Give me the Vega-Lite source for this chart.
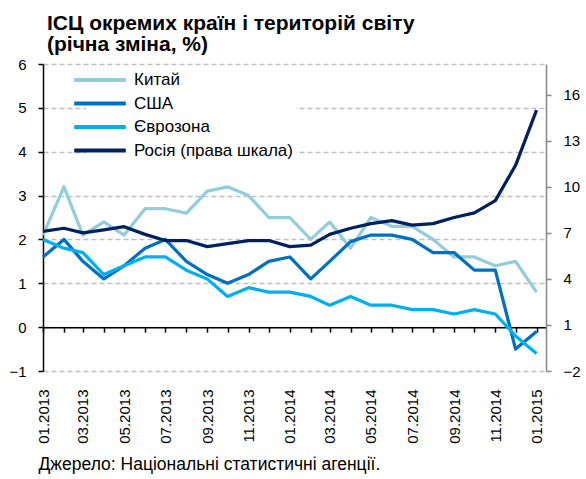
{
  "$schema": "https://vega.github.io/schema/vega-lite/v6.json",
  "width": 503,
  "height": 307,
  "autosize": {"type": "none"},
  "padding": {"left": 43, "top": 64, "right": 40, "bottom": 108},
  "background": "white",
  "config": {
    "font": "Liberation Sans",
    "view": {"stroke": null},
    "axis": {"labelFont": "Liberation Sans", "labelColor": "black", "titleFont": "Liberation Sans"},
    "legend": {"labelFont": "Liberation Sans"}
  },
  "title": {
    "text": ["ІСЦ  окремих країн і територій світу", "(річна зміна, %)"],
    "anchor": "start",
    "frame": "group",
    "font": "Liberation Sans",
    "fontSize": 21,
    "fontWeight": "bold",
    "color": "black",
    "lineHeight": 21,
    "offset": 2,
    "dx": 4
  },
  "datasets": {
    "cpi": [
      {"m": "2013-01-01", "s": "Китай", "v": 2.1},
      {"m": "2013-02-01", "s": "Китай", "v": 3.2},
      {"m": "2013-03-01", "s": "Китай", "v": 2.1},
      {"m": "2013-04-01", "s": "Китай", "v": 2.4},
      {"m": "2013-05-01", "s": "Китай", "v": 2.1},
      {"m": "2013-06-01", "s": "Китай", "v": 2.7},
      {"m": "2013-07-01", "s": "Китай", "v": 2.7},
      {"m": "2013-08-01", "s": "Китай", "v": 2.6},
      {"m": "2013-09-01", "s": "Китай", "v": 3.1},
      {"m": "2013-10-01", "s": "Китай", "v": 3.2},
      {"m": "2013-11-01", "s": "Китай", "v": 3.0},
      {"m": "2013-12-01", "s": "Китай", "v": 2.5},
      {"m": "2014-01-01", "s": "Китай", "v": 2.5},
      {"m": "2014-02-01", "s": "Китай", "v": 2.0},
      {"m": "2014-03-01", "s": "Китай", "v": 2.4},
      {"m": "2014-04-01", "s": "Китай", "v": 1.8},
      {"m": "2014-05-01", "s": "Китай", "v": 2.5},
      {"m": "2014-06-01", "s": "Китай", "v": 2.3},
      {"m": "2014-07-01", "s": "Китай", "v": 2.3},
      {"m": "2014-08-01", "s": "Китай", "v": 2.0},
      {"m": "2014-09-01", "s": "Китай", "v": 1.6},
      {"m": "2014-10-01", "s": "Китай", "v": 1.6},
      {"m": "2014-11-01", "s": "Китай", "v": 1.4},
      {"m": "2014-12-01", "s": "Китай", "v": 1.5},
      {"m": "2015-01-01", "s": "Китай", "v": 0.8},
      {"m": "2013-01-01", "s": "США", "v": 1.6},
      {"m": "2013-02-01", "s": "США", "v": 2.0},
      {"m": "2013-03-01", "s": "США", "v": 1.5},
      {"m": "2013-04-01", "s": "США", "v": 1.1},
      {"m": "2013-05-01", "s": "США", "v": 1.4},
      {"m": "2013-06-01", "s": "США", "v": 1.8},
      {"m": "2013-07-01", "s": "США", "v": 2.0},
      {"m": "2013-08-01", "s": "США", "v": 1.5},
      {"m": "2013-09-01", "s": "США", "v": 1.2},
      {"m": "2013-10-01", "s": "США", "v": 1.0},
      {"m": "2013-11-01", "s": "США", "v": 1.2},
      {"m": "2013-12-01", "s": "США", "v": 1.5},
      {"m": "2014-01-01", "s": "США", "v": 1.6},
      {"m": "2014-02-01", "s": "США", "v": 1.1},
      {"m": "2014-03-01", "s": "США", "v": 1.5},
      {"m": "2014-04-01", "s": "США", "v": 1.95},
      {"m": "2014-05-01", "s": "США", "v": 2.1},
      {"m": "2014-06-01", "s": "США", "v": 2.1},
      {"m": "2014-07-01", "s": "США", "v": 2.0},
      {"m": "2014-08-01", "s": "США", "v": 1.7},
      {"m": "2014-09-01", "s": "США", "v": 1.7},
      {"m": "2014-10-01", "s": "США", "v": 1.3},
      {"m": "2014-11-01", "s": "США", "v": 1.3},
      {"m": "2014-12-01", "s": "США", "v": -0.5},
      {"m": "2015-01-01", "s": "США", "v": -0.1},
      {"m": "2013-01-01", "s": "Єврозона", "v": 2.0},
      {"m": "2013-02-01", "s": "Єврозона", "v": 1.8},
      {"m": "2013-03-01", "s": "Єврозона", "v": 1.7},
      {"m": "2013-04-01", "s": "Єврозона", "v": 1.2},
      {"m": "2013-05-01", "s": "Єврозона", "v": 1.4},
      {"m": "2013-06-01", "s": "Єврозона", "v": 1.6},
      {"m": "2013-07-01", "s": "Єврозона", "v": 1.6},
      {"m": "2013-08-01", "s": "Єврозона", "v": 1.3},
      {"m": "2013-09-01", "s": "Єврозона", "v": 1.1},
      {"m": "2013-10-01", "s": "Єврозона", "v": 0.7},
      {"m": "2013-11-01", "s": "Єврозона", "v": 0.9},
      {"m": "2013-12-01", "s": "Єврозона", "v": 0.8},
      {"m": "2014-01-01", "s": "Єврозона", "v": 0.8},
      {"m": "2014-02-01", "s": "Єврозона", "v": 0.7},
      {"m": "2014-03-01", "s": "Єврозона", "v": 0.5},
      {"m": "2014-04-01", "s": "Єврозона", "v": 0.7},
      {"m": "2014-05-01", "s": "Єврозона", "v": 0.5},
      {"m": "2014-06-01", "s": "Єврозона", "v": 0.5},
      {"m": "2014-07-01", "s": "Єврозона", "v": 0.4},
      {"m": "2014-08-01", "s": "Єврозона", "v": 0.4},
      {"m": "2014-09-01", "s": "Єврозона", "v": 0.3},
      {"m": "2014-10-01", "s": "Єврозона", "v": 0.4},
      {"m": "2014-11-01", "s": "Єврозона", "v": 0.3},
      {"m": "2014-12-01", "s": "Єврозона", "v": -0.2},
      {"m": "2015-01-01", "s": "Єврозона", "v": -0.6},
      {"m": "2013-01-01", "s": "Росія (права шкала)", "v": 7.1},
      {"m": "2013-02-01", "s": "Росія (права шкала)", "v": 7.3},
      {"m": "2013-03-01", "s": "Росія (права шкала)", "v": 7.0},
      {"m": "2013-04-01", "s": "Росія (права шкала)", "v": 7.2},
      {"m": "2013-05-01", "s": "Росія (права шкала)", "v": 7.4},
      {"m": "2013-06-01", "s": "Росія (права шкала)", "v": 6.9},
      {"m": "2013-07-01", "s": "Росія (права шкала)", "v": 6.5},
      {"m": "2013-08-01", "s": "Росія (права шкала)", "v": 6.5},
      {"m": "2013-09-01", "s": "Росія (права шкала)", "v": 6.1},
      {"m": "2013-10-01", "s": "Росія (права шкала)", "v": 6.3},
      {"m": "2013-11-01", "s": "Росія (права шкала)", "v": 6.5},
      {"m": "2013-12-01", "s": "Росія (права шкала)", "v": 6.5},
      {"m": "2014-01-01", "s": "Росія (права шкала)", "v": 6.1},
      {"m": "2014-02-01", "s": "Росія (права шкала)", "v": 6.2},
      {"m": "2014-03-01", "s": "Росія (права шкала)", "v": 6.9},
      {"m": "2014-04-01", "s": "Росія (права шкала)", "v": 7.3},
      {"m": "2014-05-01", "s": "Росія (права шкала)", "v": 7.6},
      {"m": "2014-06-01", "s": "Росія (права шкала)", "v": 7.8},
      {"m": "2014-07-01", "s": "Росія (права шкала)", "v": 7.5},
      {"m": "2014-08-01", "s": "Росія (права шкала)", "v": 7.6},
      {"m": "2014-09-01", "s": "Росія (права шкала)", "v": 8.0},
      {"m": "2014-10-01", "s": "Росія (права шкала)", "v": 8.3},
      {"m": "2014-11-01", "s": "Росія (права шкала)", "v": 9.1},
      {"m": "2014-12-01", "s": "Росія (права шкала)", "v": 11.4},
      {"m": "2015-01-01", "s": "Росія (права шкала)", "v": 15.0}
    ]
  },
  "data": {"name": "cpi"},
  "layer": [
    {
      "transform": [{"filter": "datum.s !== 'Росія (права шкала)'"}],
      "mark": {"type": "line", "strokeWidth": 3.25, "strokeJoin": "round"},
      "encoding": {
        "x": {
          "field": "m",
          "type": "temporal",
          "scale": {"type": "utc", "domain": [{"year": 2013, "month": 1, "date": 1, "utc": true}, {"year": 2015, "month": 1, "date": 15, "utc": true}]},
          "axis": {
            "orient": "bottom",
            "offset": -43.86,
            "title": null,
            "labels": false,
            "grid": false,
            "domain": true,
            "domainColor": "black",
            "domainWidth": 1.5,
            "ticks": true,
            "tickColor": "black",
            "tickWidth": 1.5,
            "tickSize": 5,
            "tickCount": {"interval": "month", "step": 1}
          }
        },
        "y": {
          "field": "v",
          "type": "quantitative",
          "scale": {"domain": [-1, 6], "nice": false, "zero": false},
          "axis": {
            "orient": "left",
            "title": null,
            "values": [-1, 0, 1, 2, 3, 4, 5, 6],
            "domain": true,
            "domainColor": "black",
            "domainWidth": 1.5,
            "ticks": true,
            "tickColor": "black",
            "tickWidth": 1.5,
            "tickSize": 5,
            "labelFontSize": 15,
            "labelPadding": 12,
            "grid": true,
            "gridColor": "#c0c0c0",
            "gridWidth": 1.5,
            "gridDash": [5, 3]
          }
        },
        "color": {
          "field": "s",
          "type": "nominal",
          "scale": {
            "domain": ["Китай", "США", "Єврозона", "Росія (права шкала)"],
            "range": ["#93CDDD", "#0070C0", "#00B0F0", "#002060"]
          },
          "legend": {
            "title": null,
            "orient": "none",
            "legendX": 43,
            "legendY": 2,
            "fillColor": "white",
            "padding": 3,
            "symbolType": "M-3,0H3",
            "symbolSize": 296,
            "symbolStrokeWidth": 4,
            "labelFontSize": 17,
            "labelColor": "black",
            "labelOffset": 23,
            "rowPadding": 4.5
          }
        }
      }
    },
    {
      "transform": [{"filter": "datum.s === 'Росія (права шкала)'"}],
      "mark": {"type": "line", "strokeWidth": 3.25, "strokeJoin": "round"},
      "encoding": {
        "x": {
          "field": "m",
          "type": "temporal",
          "axis": {
            "orient": "bottom",
            "format": "%m.%Y",
            "tickCount": {"interval": "month", "step": 2},
            "labelAngle": 270,
            "labelAlign": "right",
            "labelBaseline": "middle",
            "labelFontSize": 15,
            "labelPadding": 18,
            "labelOverlap": false,
            "labelFlush": false,
            "domain": false,
            "ticks": false,
            "grid": false,
            "title": "Джерело: Національні  статистичні агенції.",
            "titleFontSize": 17.5,
            "titleFontWeight": "normal",
            "titleColor": "black",
            "titleAnchor": "start",
            "titleAlign": "left",
            "titleX": -5,
            "titlePadding": 12
          }
        },
        "y": {
          "field": "v",
          "type": "quantitative",
          "scale": {"domain": [-2, 18], "nice": false, "zero": false},
          "axis": {
            "orient": "right",
            "title": null,
            "values": [-2, 1, 4, 7, 10, 13, 16],
            "domain": true,
            "domainColor": "#868686",
            "domainWidth": 1.5,
            "ticks": true,
            "tickColor": "#868686",
            "tickWidth": 1.5,
            "tickSize": 5,
            "labelFontSize": 15,
            "labelPadding": 12,
            "grid": false
          }
        },
        "color": {"field": "s", "type": "nominal"}
      }
    }
  ],
  "resolve": {"scale": {"y": "independent"}, "axis": {"x": "independent", "y": "independent"}}
}
